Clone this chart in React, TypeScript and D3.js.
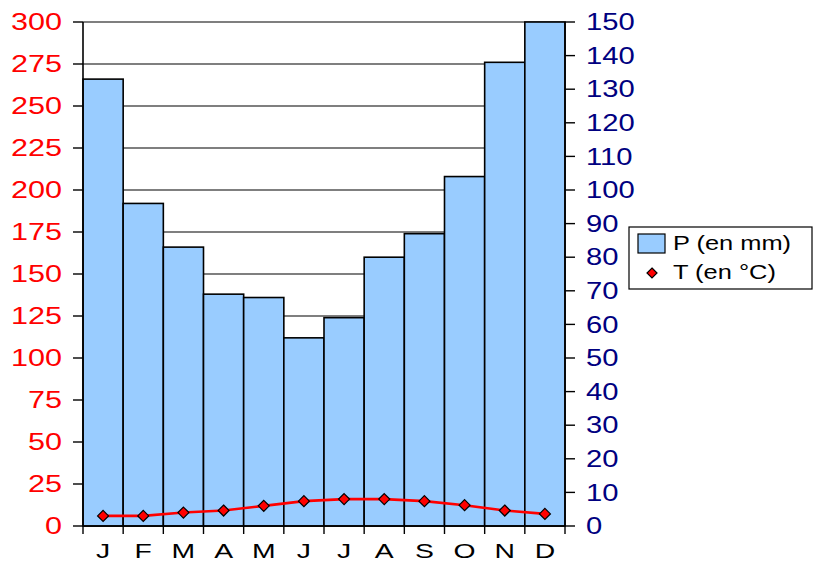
import React from "react";
import * as d3 from "d3";

const months = ["J", "F", "M", "A", "M", "J", "J", "A", "S", "O", "N", "D"];
const precip = [266, 192, 166, 138, 136, 112, 124, 160, 174, 208, 276, 300];
const temp = [3, 3, 4, 4.6, 6, 7.4, 8, 8, 7.4, 6.2, 4.6, 3.6];
const leftTicks = d3.range(0, 301, 25);
const rightTicks = d3.range(0, 151, 10);

function SText(props: { x: number; y: number; sx: number; size: number; fill: string; anchor?: string; dy?: string; children: any }) {
  const { x, y, sx, size, fill, anchor, dy, children } = props;
  return (
    <g transform={`translate(${x},${y}) scale(${sx},1)`}>
      <text x={0} y={0} dy={dy} textAnchor={anchor || "start"} fill={fill} fontSize={size}>{children}</text>
    </g>
  );
}

export default function App() {
  const W = 817, H = 562;
  const x0 = 83, x1 = 565, yTop = 22, yBot = 526;
  const x = d3.scaleBand<number>().domain(d3.range(12)).range([x0, x1]).padding(0);
  const yL = d3.scaleLinear().domain([0, 300]).range([yBot, yTop]);
  const yR = d3.scaleLinear().domain([0, 150]).range([yBot, yTop]);
  const line = d3.line<number>().x((_, i) => x(i)! + x.bandwidth() / 2).y((d) => yR(d));
  const font = "Liberation Sans, Arial, sans-serif";
  const diamond = (cx: number, cy: number, r: number) =>
    `M${cx},${cy - r}L${cx + r},${cy}L${cx},${cy + r}L${cx - r},${cy}Z`;
  return (
    <svg width={W} height={H} style={{ position: "absolute", left: 0, top: 0, background: "#fff" }} fontFamily={font}>
      {leftTicks.map((t) => (
        <line key={"g" + t} x1={x0} x2={x1} y1={yL(t)} y2={yL(t)} stroke="#000" strokeWidth={1.2} />
      ))}
      {precip.map((p, i) => (
        <rect key={"b" + i} x={x(i)!} y={yL(p)} width={x.bandwidth()} height={yBot - yL(p)} fill="#99ccff" stroke="#000" strokeWidth={1.6} />
      ))}
      <line x1={x0} x2={x0} y1={yTop} y2={yBot} stroke="#000" strokeWidth={1.6} />
      <line x1={x1} x2={x1} y1={yTop} y2={yBot} stroke="#000" strokeWidth={1.6} />
      <line x1={x0} x2={x1} y1={yBot} y2={yBot} stroke="#000" strokeWidth={1.6} />
      {leftTicks.map((t) => (
        <g key={"l" + t}>
          <line x1={x0 - 10} x2={x0} y1={yL(t)} y2={yL(t)} stroke="#000" strokeWidth={1.4} />
          <SText x={62} y={yL(t)} sx={1.33} size={23} fill="#ff0000" anchor="end" dy="0.36em">{t}</SText>
        </g>
      ))}
      {rightTicks.map((t) => (
        <g key={"r" + t}>
          <line x1={x1} x2={x1 + 10} y1={yR(t)} y2={yR(t)} stroke="#000" strokeWidth={1.4} />
          <SText x={586} y={yR(t)} sx={1.27} size={23} fill="#000080" anchor="start" dy="0.36em">{t}</SText>
        </g>
      ))}
      {d3.range(13).map((i) => {
        const xx = i < 12 ? x(i)! : x1;
        return <line key={"t" + i} x1={xx} x2={xx} y1={yBot} y2={yBot + 8} stroke="#000" strokeWidth={1.4} />;
      })}
      {months.map((m, i) => (
        <SText key={"m" + i} x={x(i)! + x.bandwidth() / 2} y={558} sx={1.35} size={21} fill="#000" anchor="middle">{m}</SText>
      ))}
      <path d={line(temp)!} fill="none" stroke="#ff0000" strokeWidth={2.6} />
      {temp.map((t, i) => (
        <path key={"d" + i} d={diamond(x(i)! + x.bandwidth() / 2, yR(t), 5.5)} fill="#ff0000" stroke="#000" strokeWidth={1.2} />
      ))}
      <rect x={629} y={227} width={183} height={62} fill="#fff" stroke="#000" strokeWidth={1.2} />
      <rect x={638} y={234} width={27} height={19} fill="#99ccff" stroke="#000" strokeWidth={1.2} />
      <SText x={673} y={250} sx={1.27} size={20} fill="#000">P (en mm)</SText>
      <path d={diamond(652, 273, 5)} fill="#ff0000" stroke="#000" strokeWidth={1.2} />
      <SText x={673} y={279} sx={1.27} size={20} fill="#000">T (en °C)</SText>
    </svg>
  );
}
